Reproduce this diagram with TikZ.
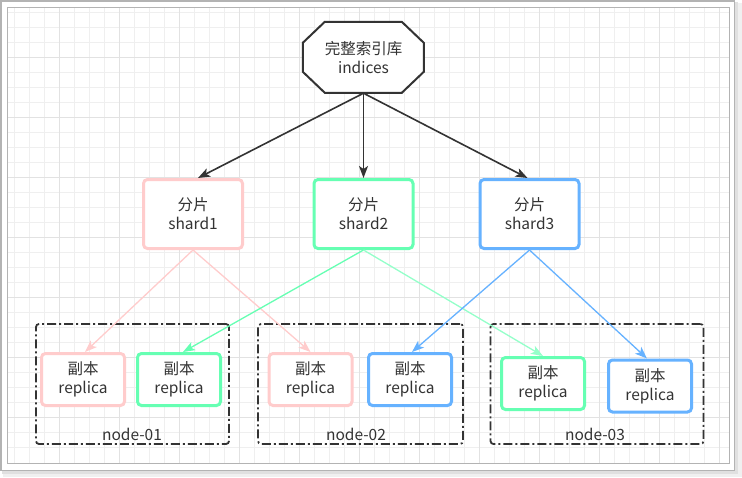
\documentclass[tikz,border=0pt]{standalone}
\usepackage{fontspec}
\setmainfont{Noto Sans CJK SC}
\usetikzlibrary{arrows.meta}
\definecolor{txt}{HTML}{333333}
\definecolor{pinkc}{HTML}{FFCCCC}
\definecolor{greenc}{HTML}{66FFB3}
\definecolor{bluec}{HTML}{66B2FF}
\definecolor{gridc}{HTML}{EFEFEF}
\definecolor{gridmaj}{HTML}{E2E2E2}
\definecolor{framec}{HTML}{B3B3B3}
\begin{document}
\begin{tikzpicture}[x=1pt,y=-1pt,
  every node/.style={font=\fontsize{15.5}{19}\selectfont, text=txt, align=center, inner sep=0pt},
  shardbox/.style={draw=#1, line width=3pt, rounded corners=4pt, fill=white, minimum width=99pt, minimum height=69pt},
  repbox/.style={draw=#1, line width=3pt, rounded corners=4pt, fill=white, minimum width=83pt, minimum height=52pt},
  grpbox/.style={draw=txt, line width=1.8pt, rounded corners=3pt, dash pattern=on 9pt off 3pt on 2pt off 3pt, minimum width=#1, minimum height=120pt},
  arr/.style={draw=#1, line width=1.3pt, -{Stealth[length=12pt,width=9pt,inset=3pt]}},
  darr/.style={draw=txt, line width=1.6pt, -{Stealth[length=12pt,width=9pt,inset=3pt]}}]
\useasboundingbox (0,0) rectangle (742,477);
% shadow and frame
\fill[black!6] (3,3) rectangle (742,477);
\fill[black!12] (2,2) rectangle (738,474);
\fill[white] (0,0) rectangle (735,471);
\draw[framec, line width=1.5pt] (0.75,0.75) rectangle (734.5,470.5);
% grid
\foreach \k in {1,...,48} \draw[gridc, line width=0.8pt] (15*\k-0.7,7.3) -- (15*\k-0.7,463.3);
\foreach \k in {1,...,30} \draw[gridc, line width=0.8pt] (7.3,15*\k-2.7) -- (729.3,15*\k-2.7);
\foreach \k in {1,...,12} \draw[gridmaj, line width=0.8pt] (60*\k-0.7,7.3) -- (60*\k-0.7,463.3);
\foreach \k in {1,...,7} \draw[gridmaj, line width=0.8pt] (7.3,60*\k-2.7) -- (729.3,60*\k-2.7);
\draw[framec, line width=1pt] (7.3,7.3) rectangle (729.3,463.3);
% octagon
\node[minimum width=121pt, minimum height=71pt] (oct) at (363.5,57.5) {};
\draw[txt, line width=2pt, fill=white] (oct.north west) ++(22,0) -- ++(77,0) -- ++(22,21) -- ++(0,29) -- ++(-22,21) -- ++(-77,0) -- ++(-22,-21) -- ++(0,-29) -- cycle;
\node (octtext) at (oct.center) {完整索引库\\indices};
% shards
\node[shardbox=pinkc] (s1) at (193,214) {分片\\shard1};
\node[shardbox=greenc] (s2) at (363.5,214) {分片\\shard2};
\node[shardbox=bluec] (s3) at (529.5,214) {分片\\shard3};
% groups
\node[grpbox=193pt] (g1) at (132.5,384) {};
\node[grpbox=205pt] (g2) at (360.5,384) {};
\node[grpbox=213pt] (g3) at (597,384) {};
\node (l1) at (132,434) {node-01};
\node (l2) at (356,434) {node-02};
\node (l3) at (595,434) {node-03};
% replicas
\node[repbox=pinkc] (r1) at (83,379.5) {副本\\replica};
\node[repbox=greenc] (r2) at (179,379.5) {副本\\replica};
\node[repbox=pinkc] (r3) at (310.5,379.5) {副本\\replica};
\node[repbox=bluec] (r4) at (410,379.5) {副本\\replica};
\node[repbox=greenc] (r5) at (543,383.5) {副本\\replica};
\node[repbox=bluec] (r6) at (650,386) {副本\\replica};
% connectors
\draw[darr] (oct.south) -- ([xshift=5pt]s1.north);
\draw[darr] (oct.south) -- (s2.north);
\draw[darr] (oct.south) -- ([xshift=-2pt]s3.north);
\draw[arr=pinkc] (s1.south) -- ([xshift=2pt]r1.north);
\draw[arr=pinkc] (s1.south) -- (r3.north);
\draw[arr=greenc] (s2.south) -- ([xshift=4pt]r2.north);
\draw[arr=greenc!70!white] (s2.south) -- (r5.north);
\draw[arr=bluec] (s3.south) -- ([xshift=2pt]r4.north);
\draw[arr=bluec] (s3.south) -- ([xshift=-3pt]r6.north);
\end{tikzpicture}
\end{document}
